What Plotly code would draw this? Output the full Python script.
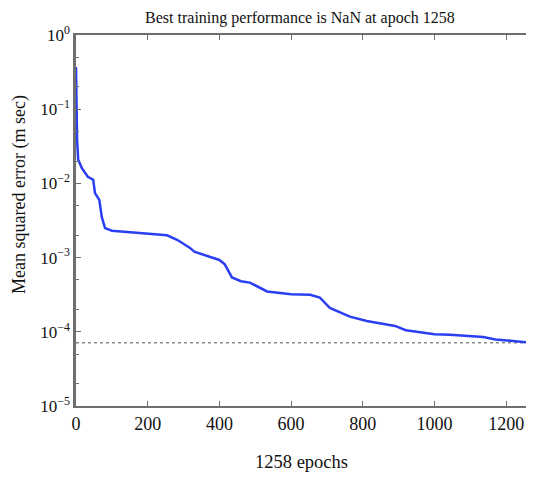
import plotly.graph_objects as go

# Data
epochs = [0, 3, 6, 16, 33, 48, 53, 65, 72, 81, 100, 150, 200, 254, 282, 318, 330,
          400, 415, 425, 435, 460, 485, 533, 600, 653, 680, 708, 740, 764, 811,
          860, 890, 920, 950, 1000, 1043, 1100, 1136, 1170, 1210, 1258]
mse = [0.37, 0.040, 0.021, 0.0162, 0.0123, 0.0112, 0.0074, 0.0060, 0.0035, 0.0025,
       0.0023, 0.0022, 0.0021, 0.0020, 0.00174, 0.00135, 0.0012,
       0.00093, 0.00081, 0.00065, 0.00054, 0.00048, 0.00046, 0.00035, 0.00032,
       0.000316, 0.00029, 0.00021, 0.00018, 0.00016, 0.00014,
       0.000126, 0.00012, 0.000105, 0.0001, 0.000093, 0.000091, 0.000087,
       0.000085, 0.000079, 0.000076, 0.000072]
goal_x = [0, 1258]
goal_y = [7.1e-5, 7.1e-5]

y_tickvals = [1, 0.1, 0.01, 0.001, 0.0001, 0.00001]
y_ticktext = ["10<sup>0</sup>", "10<sup>\u22121</sup>", "10<sup>\u22122</sup>",
              "10<sup>\u22123</sup>", "10<sup>\u22124</sup>", "10<sup>\u22125</sup>"]
x_tickvals = [0, 200, 400, 600, 800, 1000, 1200]

font = "Liberation Serif, Times New Roman, serif"
axis_col = "#6e6e6e"

fig = go.Figure()
fig.add_trace(go.Scatter(x=goal_x, y=goal_y, mode="lines",
                         line=dict(color="#8a8a8a", width=1.5, dash="dot"),
                         showlegend=False, hoverinfo="skip"))
fig.add_trace(go.Scatter(x=epochs, y=mse, mode="lines",
                         line=dict(color="#2b3ff2", width=2.5),
                         showlegend=False))

# page body has an 8px margin, so the figure is sized/positioned to compensate
fig.update_layout(
    width=526, height=469,
    margin=dict(l=68, r=7, t=27, b=71),
    paper_bgcolor="white", plot_bgcolor="white",
    font=dict(family=font, size=17, color="#111"),
    title=dict(text="Best training performance is NaN at apoch 1258",
               x=0.555, xanchor="center", y=0.981, yanchor="middle",
               font=dict(family=font, size=16, color="#111")),
)
fig.update_xaxes(
    range=[0, 1258], tickvals=x_tickvals, showgrid=False, zeroline=False,
    showline=True, linecolor=axis_col, linewidth=2, mirror="ticks",
    ticks="inside", ticklen=5, tickcolor=axis_col, automargin=False,
    tickfont=dict(family=font, size=18, color="#111"),
    title=dict(text="1258 epochs", standoff=22,
               font=dict(family=font, size=18.5, color="#111")),
)
fig.update_yaxes(
    type="log", range=[-5, 0], tickvals=y_tickvals, ticktext=y_ticktext,
    showgrid=False, zeroline=False, automargin=False,
    showline=True, linecolor=axis_col, linewidth=2.5,
    ticks="inside", ticklen=5, tickcolor=axis_col,
    minor=dict(ticks="inside", ticklen=3, tickcolor=axis_col, showgrid=False),
    tickfont=dict(family=font, size=17, color="#111"),
)
fig.add_annotation(text="Mean squared error (m sec)", textangle=-90,
                   xref="paper", yref="paper", x=-0.124, y=0.569,
                   xanchor="center", yanchor="middle", showarrow=False,
                   font=dict(family=font, size=18, color="#111"))
fig.add_shape(type="line", xref="paper", yref="paper", x0=1, x1=1, y0=0, y1=1,
              line=dict(color="#d8d8d8", width=1, dash="dot"))

fig.write_html("out.html")
